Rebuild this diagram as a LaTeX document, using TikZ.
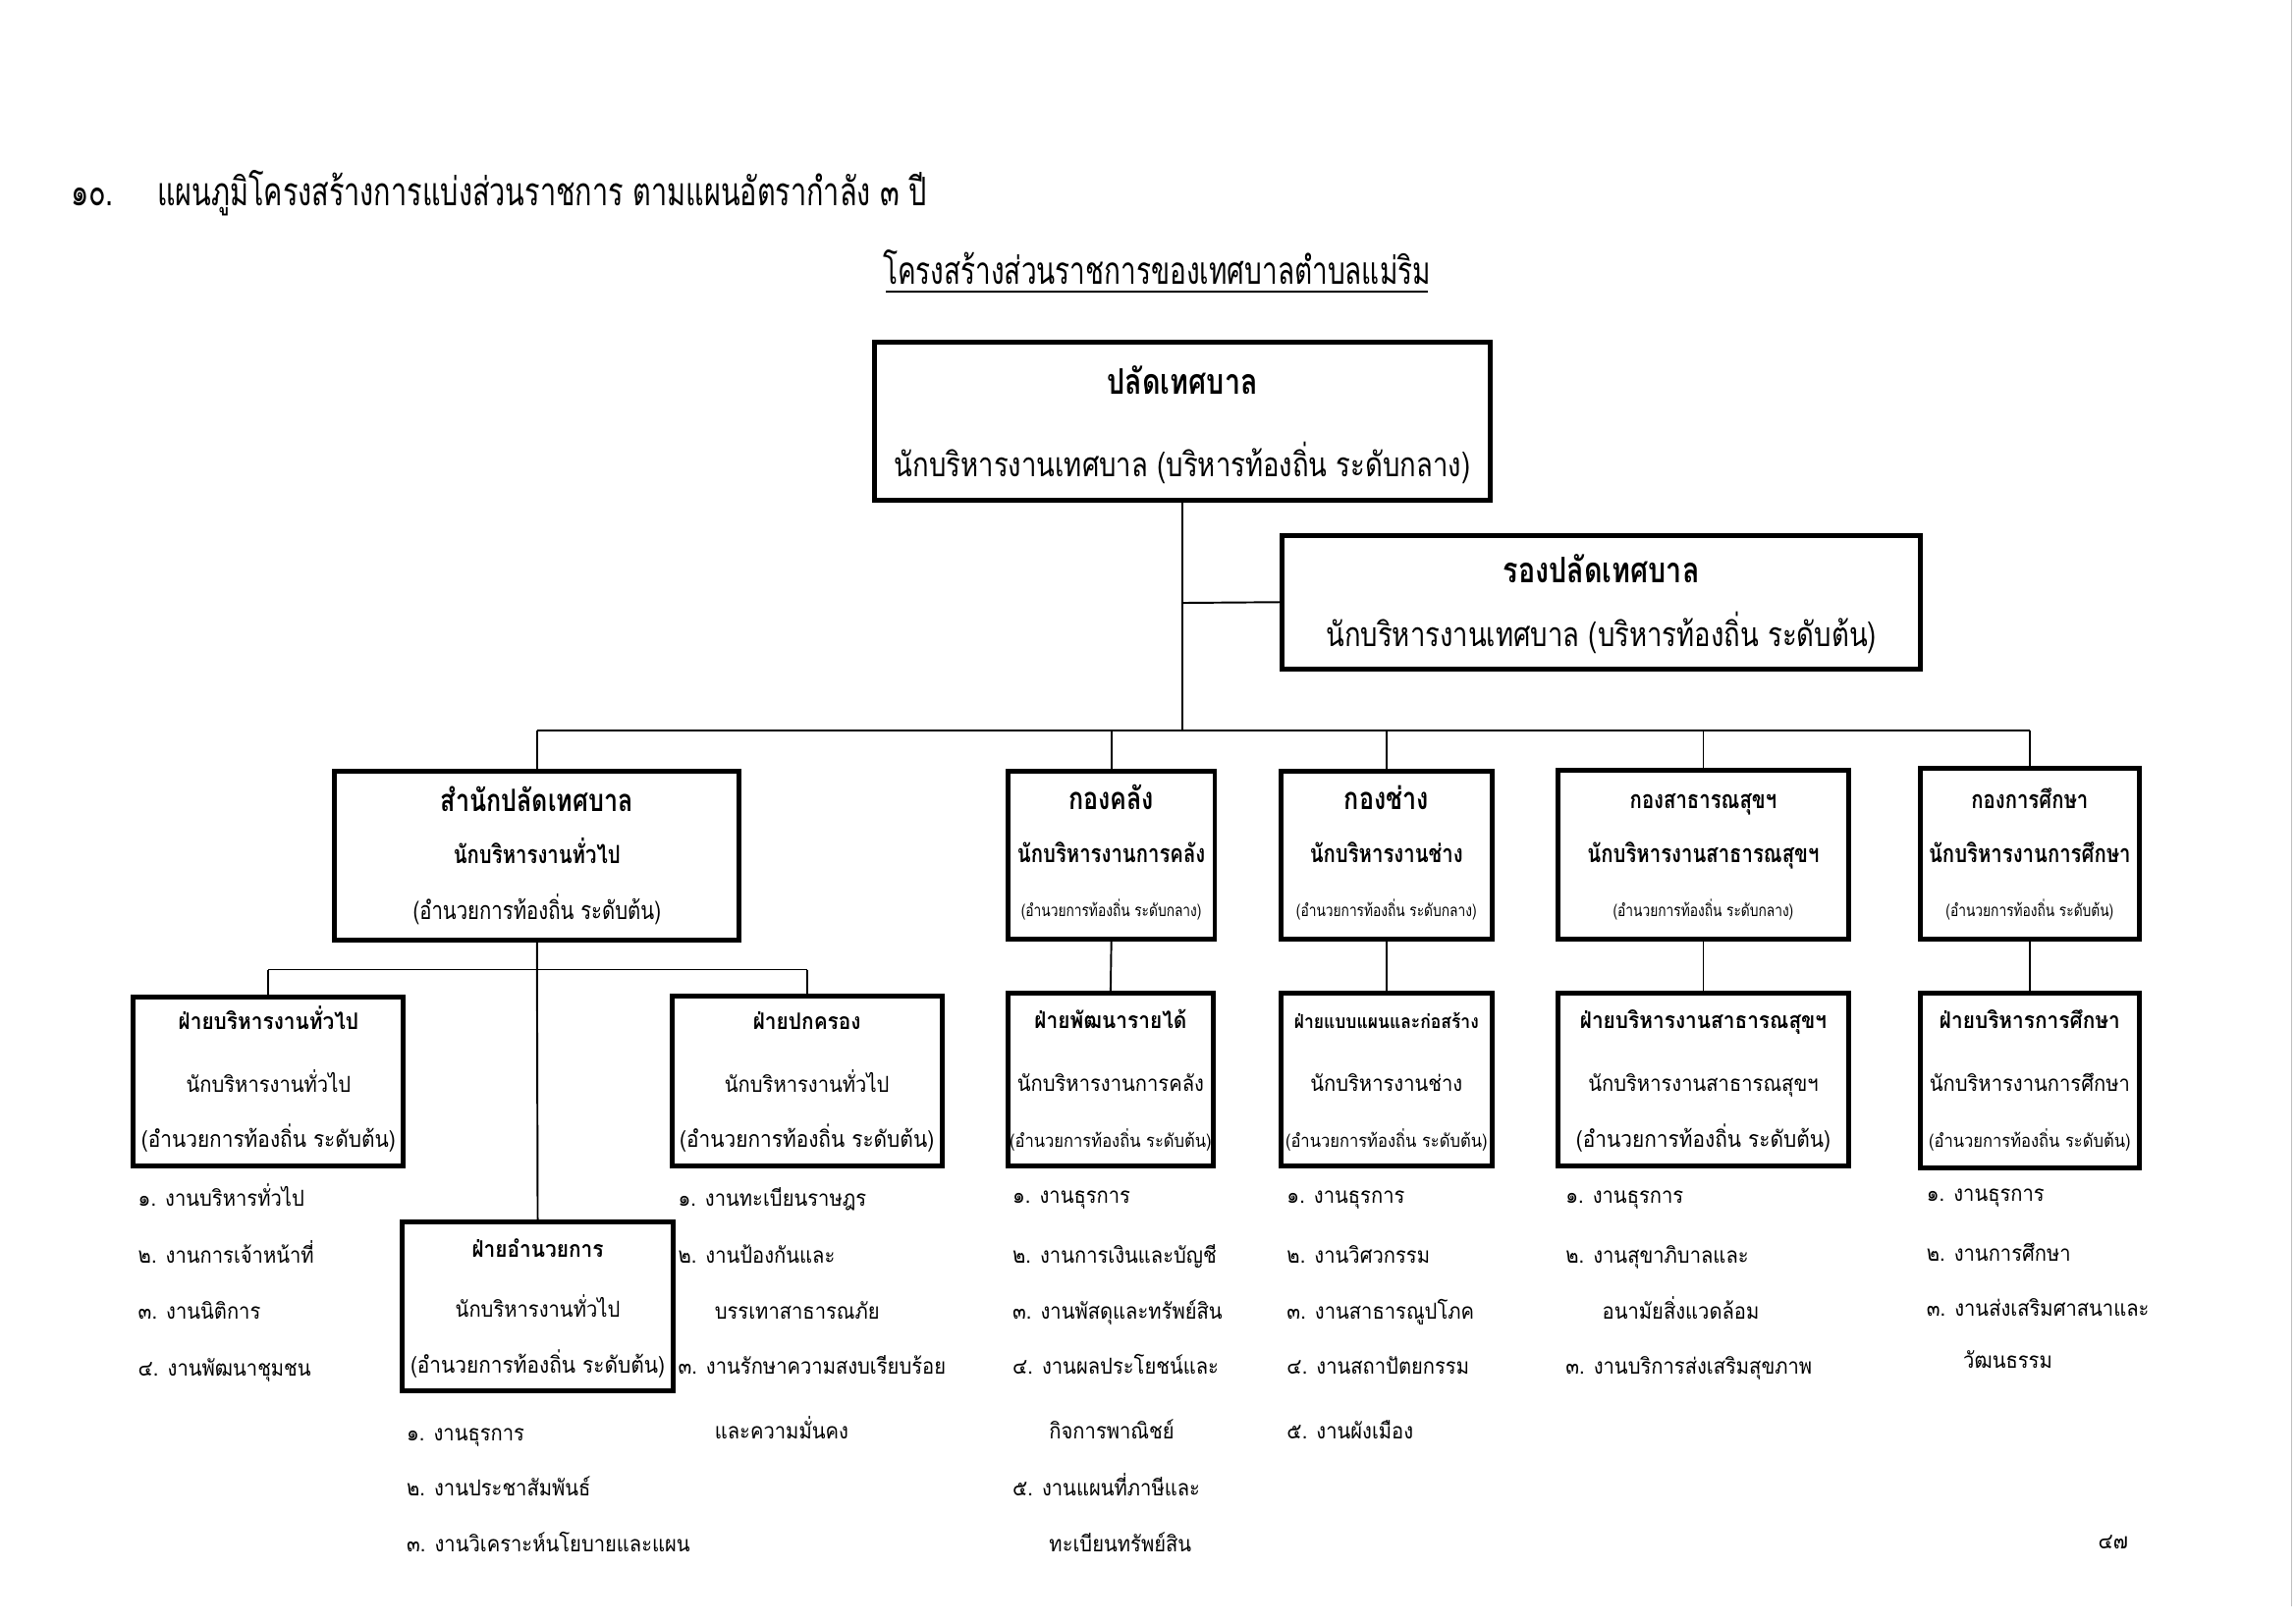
\documentclass[tikz,border=0pt]{standalone}
\usepackage{fontspec}
\newfontfamily\thaif[Script=Thai,FakeStretch=0.9]{Loma}
\newfontfamily\thaic[Script=Thai,FakeStretch=0.8]{Loma}
\newfontfamily\thaih[Script=Thai,FakeStretch=0.72]{Loma}
\begin{document}
\begin{tikzpicture}[x=1pt,y=-1pt,
  box/.style={draw, line width=3.3pt, inner sep=0pt, fill=none},
  conn/.style={line width=1.3pt},
  txt/.style={inner sep=0pt, anchor=base},
  lst/.style={inner sep=0pt, anchor=base west, font=\thaif\fontsize{15}{15}\selectfont},
  hdr/.style={font=\thaih\fontsize{26}{26}\selectfont},
  hdrb/.style={font=\thaih\fontsize{26.8}{26.8}\selectfont},
  topa/.style={font=\thaic\bfseries\fontsize{24}{24}\selectfont},
  topb/.style={font=\thaic\fontsize{23}{23}\selectfont},
  kona/.style={font=\thaic\bfseries\fontsize{21}{21}\selectfont},
  konb/.style={font=\thaic\bfseries\fontsize{17}{17}\selectfont},
  konc/.style={font=\thaic\fontsize{17}{17}\selectfont},
  kons/.style={font=\thaic\fontsize{11.5}{11.5}\selectfont},
  faia/.style={font=\thaif\bfseries\fontsize{15.5}{15.5}\selectfont},
  faib/.style={font=\thaif\fontsize{15}{15}\selectfont},
  faic/.style={font=\thaif\fontsize{15.5}{15.5}\selectfont},
  fais/.style={font=\thaif\fontsize{12.3}{12.3}\selectfont},
]
\useasboundingbox (0,0) rectangle (1565,1106.4);
\fill[white] (0,0) rectangle (1565,1106.4);
\draw[black!25, line width=1pt] (1562,0) -- (1562,1095);

% header
\node[txt, anchor=base west, hdrb] (hnum) at (48,140) {๑๐.};
\node[txt, anchor=base west, hdrb] (htext) at (107,140) {แผนภูมิโครงสร้างการแบ่งส่วนราชการ ตามแผนอัตรากำลัง ๓ ปี};
\node[txt, hdr] (title) at (788.5,194) {โครงสร้างส่วนราชการของเทศบาลตำบลแม่ริม};
\draw[line width=1.2pt] (604,199) -- (973,199);

% top boxes
\node[box, minimum width=420pt, minimum height=108pt] (top) at (806,287) {};
\node[txt, topa] (topt1) at (806,269) {ปลัดเทศบาล};
\node[txt, topb] (topt2) at (806,325) {นักบริหารงานเทศบาล (บริหารท้องถิ่น ระดับกลาง)};
\node[box, minimum width=435pt, minimum height=91pt] (dep) at (1091.5,410.5) {};
\node[txt, topa] (dept1) at (1091.5,397) {รองปลัดเทศบาล};
\node[txt, topb] (dept2) at (1091.5,441) {นักบริหารงานเทศบาล (บริหารท้องถิ่น ระดับต้น)};

% level 2
\node[box, minimum width=276pt, minimum height=115pt] (sp) at (366,583.5) {};
\node[txt, kona] (spt1) at (366,553) {สำนักปลัดเทศบาล};
\node[txt, konb] (spt2) at (366,589) {นักบริหารงานทั่วไป};
\node[txt, konc] (spt3) at (366,627) {(อำนวยการท้องถิ่น ระดับต้น)};

\node[box, minimum width=141pt, minimum height=114pt] (kk) at (757.5,583) {};
\node[txt, kona] (kkt1) at (757.5,552) {กองคลัง};
\node[txt, konb] (kkt2) at (757.5,588) {นักบริหารงานการคลัง};
\node[txt, kons] (kkt3) at (757.5,625) {(อำนวยการท้องถิ่น ระดับกลาง)};

\node[box, minimum width=144pt, minimum height=114pt] (kc) at (945,583) {};
\node[txt, kona] (kct1) at (945,552) {กองช่าง};
\node[txt, konb] (kct2) at (945,588) {นักบริหารงานช่าง};
\node[txt, kons] (kct3) at (945,625) {(อำนวยการท้องถิ่น ระดับกลาง)};

\node[box, minimum width=198pt, minimum height=115pt] (ks) at (1161,582.5) {};
\node[txt, konb] (kst1) at (1161,551) {กองสาธารณสุขฯ};
\node[txt, konb] (kst2) at (1161,588) {นักบริหารงานสาธารณสุขฯ};
\node[txt, kons] (kst3) at (1161,625) {(อำนวยการท้องถิ่น ระดับกลาง)};

\node[box, minimum width=149pt, minimum height=116pt] (ke) at (1383.5,582) {};
\node[txt, konb] (ket1) at (1383.5,551) {กองการศึกษา};
\node[txt, konb] (ket2) at (1383.5,588) {นักบริหารงานการศึกษา};
\node[txt, kons] (ket3) at (1383.5,625) {(อำนวยการท้องถิ่น ระดับต้น)};

% level 3
\node[box, minimum width=184pt, minimum height=115pt] (f1) at (183,737.5) {};
\node[txt, faia] (f1t1) at (183,702) {ฝ่ายบริหารงานทั่วไป};
\node[txt, faib] (f1t2) at (183,745) {นักบริหารงานทั่วไป};
\node[txt, faic] (f1t3) at (183,782) {(อำนวยการท้องถิ่น ระดับต้น)};

\node[box, minimum width=184pt, minimum height=116pt] (f2) at (550,737) {};
\node[txt, faia] (f2t1) at (550,702) {ฝ่ายปกครอง};
\node[txt, faib] (f2t2) at (550,745) {นักบริหารงานทั่วไป};
\node[txt, faic] (f2t3) at (550,782) {(อำนวยการท้องถิ่น ระดับต้น)};

\node[box, minimum width=185pt, minimum height=115pt] (f3) at (366.5,890.5) {};
\node[txt, faia] (f3t1) at (366.5,857) {ฝ่ายอำนวยการ};
\node[txt, faib] (f3t2) at (366.5,898) {นักบริหารงานทั่วไป};
\node[txt, faic] (f3t3) at (366.5,936) {(อำนวยการท้องถิ่น ระดับต้น)};

\node[box, minimum width=140pt, minimum height=118pt] (f4) at (757,736) {};
\node[txt, faia] (f4t1) at (757,701) {ฝ่ายพัฒนารายได้};
\node[txt, faib] (f4t2) at (757,744) {นักบริหารงานการคลัง};
\node[txt, fais] (f4t3) at (757,782) {(อำนวยการท้องถิ่น ระดับต้น)};

\node[box, minimum width=144pt, minimum height=118pt] (f5) at (945,736) {};
\node[txt, font=\thaif\bfseries\fontsize{13}{13}\selectfont] (f5t1) at (945,701) {ฝ่ายแบบแผนและก่อสร้าง};
\node[txt, faib] (f5t2) at (945,744) {นักบริหารงานช่าง};
\node[txt, fais] (f5t3) at (945,782) {(อำนวยการท้องถิ่น ระดับต้น)};

\node[box, minimum width=198pt, minimum height=118pt] (f6) at (1161,736) {};
\node[txt, faia] (f6t1) at (1161,701) {ฝ่ายบริหารงานสาธารณสุขฯ};
\node[txt, faib] (f6t2) at (1161,744) {นักบริหารงานสาธารณสุขฯ};
\node[txt, faic] (f6t3) at (1161,782) {(อำนวยการท้องถิ่น ระดับต้น)};

\node[box, minimum width=149pt, minimum height=119pt] (f7) at (1383.5,736.5) {};
\node[txt, faia] (f7t1) at (1383.5,701) {ฝ่ายบริหารการศึกษา};
\node[txt, faib] (f7t2) at (1383.5,744) {นักบริหารงานการศึกษา};
\node[txt, fais] (f7t3) at (1383.5,782) {(อำนวยการท้องถิ่น ระดับต้น)};

% connectors
\coordinate (jbus) at (806,498);
\coordinate (jdep) at (806,411);
\coordinate (bl) at (366,498);
\coordinate (br) at (1383.5,498);
\coordinate (b2) at (757.5,498);
\coordinate (b3) at (945,498);
\coordinate (b4) at (1161,498);
\coordinate (s1) at (183,661);
\coordinate (s2) at (550,661);
\draw[conn] (top.south) -- (jbus);
\draw[conn] (jdep) -- (dep.west);
\draw[conn] (bl) -- (br);
\draw[conn] (bl) -- (sp.north);
\draw[conn] (b2) -- (kk.north);
\draw[conn] (b3) -- (kc.north);
\draw[conn] (b4) -- (ks.north);
\draw[conn] (br) -- (ke.north);
\draw[conn] (sp.south) -- (f3.north);
\draw[conn] (s1) -- (s2);
\draw[conn] (s1) -- (f1.north);
\draw[conn] (s2) -- (f2.north);
\draw[conn] (kk.south) -- (f4.north);
\draw[conn] (kc.south) -- (f5.north);
\draw[conn] (ks.south) -- (f6.north);
\draw[conn] (ke.south) -- (f7.north);

% lists
\node[lst] (a1) at (94,822) {๑. งานบริหารทั่วไป};
\node[lst] (a2) at (94,861) {๒. งานการเจ้าหน้าที่};
\node[lst] (a3) at (94,899) {๓. งานนิติการ};
\node[lst] (a4) at (94,938) {๔. งานพัฒนาชุมชน};

\node[lst] (b1l) at (462,822) {๑. งานทะเบียนราษฎร};
\node[lst] (b2l) at (462,861) {๒. งานป้องกันและ};
\node[lst] (b2m) at (487,899) {บรรเทาสาธารณภัย};
\node[lst] (b3l) at (462,937) {๓. งานรักษาความสงบเรียบร้อย};
\node[lst] (b3m) at (487,981) {และความมั่นคง};

\node[lst] (c1) at (277,982) {๑. งานธุรการ};
\node[lst] (c2) at (277,1020) {๒. งานประชาสัมพันธ์};
\node[lst] (c3) at (277,1058) {๓. งานวิเคราะห์นโยบายและแผน};

\node[lst] (d1) at (690,820) {๑. งานธุรการ};
\node[lst] (d2) at (690,861) {๒. งานการเงินและบัญชี};
\node[lst] (d3) at (690,899) {๓. งานพัสดุและทรัพย์สิน};
\node[lst] (d4) at (690,937) {๔. งานผลประโยชน์และ};
\node[lst] (d4m) at (715,981) {กิจการพาณิชย์};
\node[lst] (d5) at (690,1020) {๕. งานแผนที่ภาษีและ};
\node[lst] (d5m) at (715,1058) {ทะเบียนทรัพย์สิน};

\node[lst] (e1) at (877,820) {๑. งานธุรการ};
\node[lst] (e2) at (877,861) {๒. งานวิศวกรรม};
\node[lst] (e3) at (877,899) {๓. งานสาธารณูปโภค};
\node[lst] (e4) at (877,937) {๔. งานสถาปัตยกรรม};
\node[lst] (e5) at (877,981) {๕. งานผังเมือง};

\node[lst] (g1) at (1067,820) {๑. งานธุรการ};
\node[lst] (g2) at (1067,861) {๒. งานสุขาภิบาลและ};
\node[lst] (g2m) at (1092,899) {อนามัยสิ่งแวดล้อม};
\node[lst] (g3) at (1067,937) {๓. งานบริการส่งเสริมสุขภาพ};

\node[lst] (h1) at (1313,819) {๑. งานธุรการ};
\node[lst] (h2) at (1313,860) {๒. งานการศึกษา};
\node[lst] (h3) at (1313,897) {๓. งานส่งเสริมศาสนาและ};
\node[lst] (h3m) at (1338,933) {วัฒนธรรม};

\node[lst] (pg) at (1430,1056) {๔๗};
\end{tikzpicture}
\end{document}
